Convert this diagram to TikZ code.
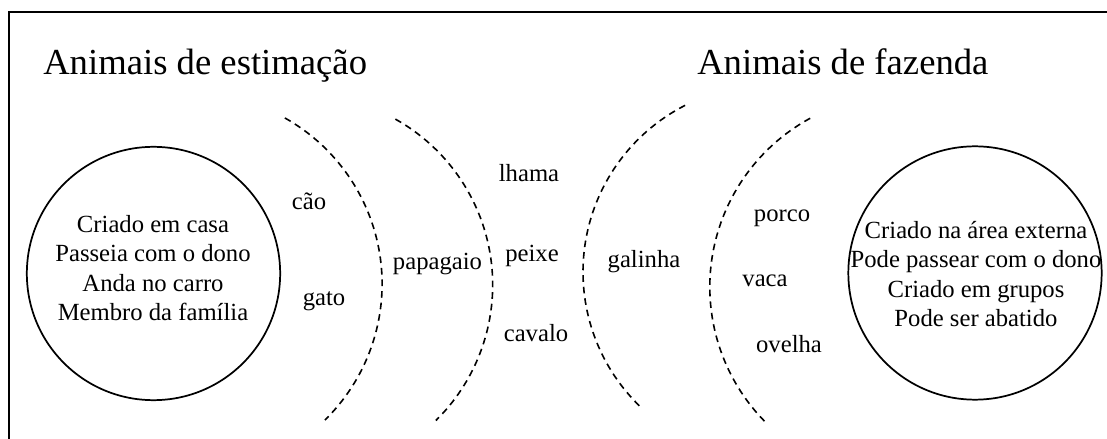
\documentclass[tikz,border=0pt]{standalone}
\usepackage{fontspec}
\setmainfont{Liberation Serif}

\tikzset{
  heading/.style={font=\fontsize{27.5}{33}\selectfont, inner sep=0pt, anchor=base west},
  animal/.style={font=\fontsize{18.5}{22}\selectfont, inner sep=0pt, anchor=base},
  traits/.style={font=\fontsize{18.5}{22}\selectfont, align=center, inner sep=0pt},
  groupring/.style={circle, draw, line width=1.3pt, minimum size=190pt, inner sep=0pt},
  divider/.style={line width=1.2pt, dash pattern=on 5pt off 3.7pt}
}

\begin{document}
\begin{tikzpicture}[x=0.75pt, y=0.75pt]
  \useasboundingbox (0,0) rectangle (1107,439);

  % Frame (open to the right and below)
  \draw[line width=1.7pt] (9,-5) -- (9,427) -- (1112,427);

  % Titles
  \node[heading] (pettitle)  at (43,364)  {Animais de estimação};
  \node[heading] (farmtitle) at (697,364) {Animais de fazenda};

  % The two groups
  \node[groupring] (pets) at (153.5,165.5) {};
  \node[traits] (petlist) at (153,171)
    {Criado em casa\\Passeia com o dono\\Anda no carro\\Membro da família};
  \node[groupring] (farm) at (975,166) {};
  \node[traits] (farmlist) at (976,165)
    {Criado na área externa\\Pode passear com o dono\\Criado em grupos\\Pode ser abatido};

  % Dashed dividers (centre x/y, radius, start/end angle)
  \foreach \cx/\cy/\r/\from/\to in {191.7/155/190.4/60.7/-45.6,
                                     302.7/154/190/60.8/-45.5,
                                     770/167/187/117/226,
                                     901.8/152/192/118.5/224.6} {
    \draw[divider] (\cx,\cy) ++(\from:\r) arc[start angle=\from, end angle=\to, radius=\r];
  }

  % Animals
  \node[animal] (cao)      at (309,229)   {cão};
  \node[animal] (gato)     at (324,133)   {gato};
  \node[animal] (papagaio) at (437.5,169) {papagaio};
  \node[animal] (lhama)    at (529,257)   {lhama};
  \node[animal] (peixe)    at (532,177)   {peixe};
  \node[animal] (cavalo)   at (536,97)    {cavalo};
  \node[animal] (galinha)  at (644,171)   {galinha};
  \node[animal] (porco)    at (782,217)   {porco};
  \node[animal] (vaca)     at (765,152)   {vaca};
  \node[animal] (ovelha)   at (789,86)    {ovelha};
\end{tikzpicture}
\end{document}
